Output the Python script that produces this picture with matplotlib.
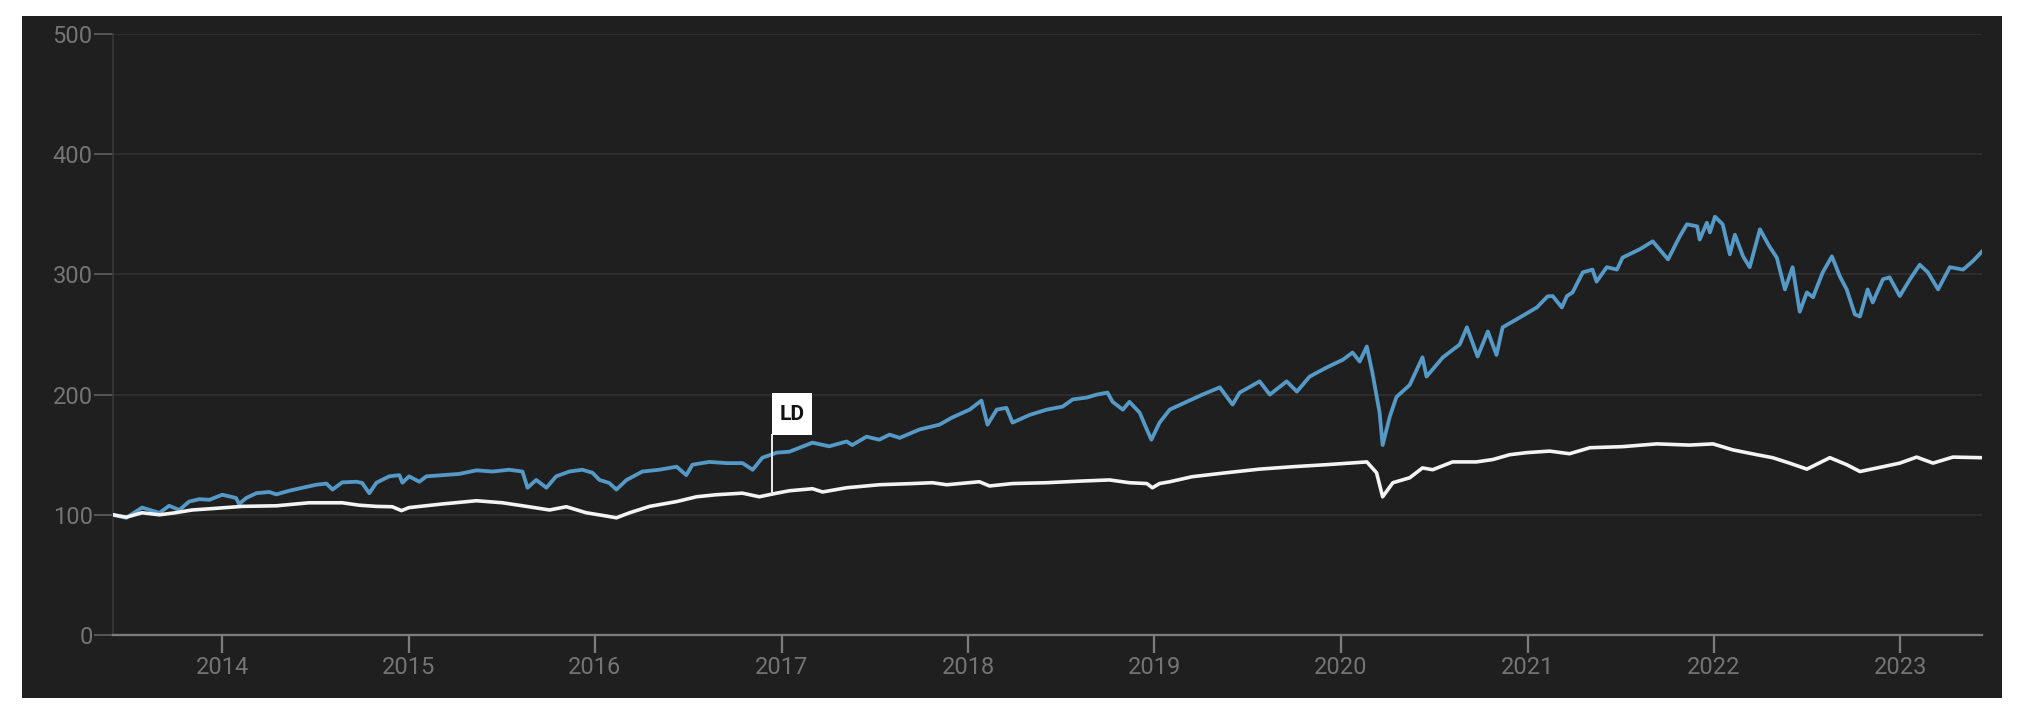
import matplotlib
matplotlib.use("Agg")
import matplotlib.pyplot as plt
import matplotlib.dates as mdates
from matplotlib.patches import Rectangle
import pandas as pd

# ---------------- data ----------------
blue_dates = [
    "2013-06-01", "2013-06-27", "2013-07-28", "2013-08-31", "2013-09-19", "2013-10-09", "2013-10-28",
    "2013-11-17", "2013-12-07", "2014-01-01", "2014-01-28", "2014-02-03", "2014-02-17", "2014-03-09",
    "2014-04-03", "2014-04-17", "2014-05-12", "2014-06-07", "2014-07-04", "2014-07-24", "2014-08-05",
    "2014-08-24", "2014-09-21", "2014-10-02", "2014-10-16", "2014-10-30", "2014-11-24", "2014-12-14",
    "2014-12-20", "2015-01-02", "2015-01-22", "2015-02-05", "2015-03-08", "2015-04-10", "2015-05-14",
    "2015-06-14", "2015-07-17", "2015-08-12", "2015-08-22", "2015-09-08", "2015-09-28", "2015-10-17",
    "2015-11-12", "2015-12-07", "2015-12-27", "2016-01-10", "2016-01-29", "2016-02-12", "2016-03-03",
    "2016-04-03", "2016-05-06", "2016-06-09", "2016-06-28", "2016-07-10", "2016-08-12", "2016-09-15",
    "2016-10-16", "2016-11-05", "2016-11-24", "2016-12-22", "2017-01-16", "2017-03-02", "2017-04-04",
    "2017-05-08", "2017-05-19", "2017-06-16", "2017-07-11", "2017-07-31", "2017-08-20", "2017-09-28",
    "2017-11-06", "2017-12-01", "2018-01-04", "2018-01-27", "2018-02-08", "2018-02-26", "2018-03-17",
    "2018-03-29", "2018-05-01", "2018-06-04", "2018-07-05", "2018-07-25", "2018-08-21", "2018-09-10",
    "2018-10-01", "2018-10-11", "2018-10-31", "2018-11-13", "2018-12-03", "2018-12-17", "2018-12-26",
    "2019-01-11", "2019-01-31", "2019-03-05", "2019-04-05", "2019-05-09", "2019-06-03", "2019-06-17",
    "2019-07-26", "2019-08-15", "2019-09-17", "2019-10-07", "2019-11-01", "2019-12-04", "2020-01-05",
    "2020-01-24", "2020-02-07", "2020-02-21", "2020-03-03", "2020-03-17", "2020-03-23", "2020-04-06",
    "2020-04-19", "2020-05-15", "2020-06-09", "2020-06-17", "2020-07-19", "2020-08-21", "2020-09-04",
    "2020-09-25", "2020-10-15", "2020-11-01", "2020-11-13", "2020-12-16", "2021-01-19", "2021-02-09",
    "2021-02-19", "2021-03-09", "2021-03-19", "2021-03-30", "2021-04-19", "2021-05-08", "2021-05-16",
    "2021-06-05", "2021-06-25", "2021-07-06", "2021-08-09", "2021-09-03", "2021-10-03", "2021-10-26",
    "2021-11-09", "2021-11-29", "2021-12-04", "2021-12-18", "2021-12-24", "2022-01-03", "2022-01-18",
    "2022-02-01", "2022-02-11", "2022-02-27", "2022-03-12", "2022-04-01", "2022-04-20", "2022-05-04",
    "2022-05-20", "2022-06-04", "2022-06-18", "2022-07-02", "2022-07-14", "2022-08-02", "2022-08-20",
    "2022-09-05", "2022-09-18", "2022-10-04", "2022-10-14", "2022-10-29", "2022-11-08", "2022-11-28",
    "2022-12-11", "2022-12-31", "2023-01-20", "2023-02-08", "2023-02-24", "2023-03-16", "2023-04-08",
    "2023-05-04", "2023-05-23", "2023-06-10",
]
blue_values = [
    100, 97.5, 106, 101.6, 107.5, 104, 111,
    113, 112.5, 116.7, 114, 109, 114, 118,
    119, 117, 120, 122.5, 125, 126, 121,
    127, 127.5, 126.5, 118, 126.7, 132, 133,
    126.7, 132, 127.5, 132, 133, 134, 137,
    136, 137.5, 136, 122.5, 129, 122.5, 132,
    136, 137.5, 135, 129, 126.5, 121, 129,
    136, 137.5, 140, 133, 141.7, 144, 143,
    143, 137.5, 147.5, 151.7, 152.5, 160, 157,
    161, 158, 165, 162.5, 166.7, 164, 171,
    175, 181, 187.5, 195, 175, 187.5, 189,
    176.7, 183, 187.5, 190, 196, 197.5, 200,
    201.7, 194, 187.5, 194, 185, 171, 162.5,
    176.7, 187.5, 194, 200, 206, 191.7, 201.7,
    211, 200, 211, 202.5, 215, 222.5, 229,
    235, 227.5, 240, 218, 185, 158, 181.7,
    198, 208, 231, 215, 231, 241.7, 256,
    231.7, 252.5, 233, 256, 264, 272.5, 281.7,
    282, 272.5, 282, 285, 301.7, 304, 294,
    306, 304, 314, 321, 327.5, 312.5, 331.7,
    341.7, 340, 329, 343, 335, 348, 341.7,
    316.7, 333, 315, 306, 337.5, 323, 314,
    287.5, 306, 269, 285, 281, 301.7, 315,
    298, 287.5, 266.7, 265, 287.5, 276.7, 296,
    297.5, 282, 296, 308, 301.7, 287.5, 306,
    304, 311, 319,
]

white_dates = [
    "2013-06-01", "2013-06-27", "2013-07-28", "2013-08-31", "2013-10-01", "2013-11-03", "2013-12-07",
    "2014-02-09", "2014-04-17", "2014-06-20", "2014-08-24", "2014-09-26", "2014-10-30", "2014-11-30",
    "2014-12-18", "2015-01-02", "2015-03-08", "2015-05-14", "2015-07-04", "2015-08-20", "2015-10-04",
    "2015-11-06", "2015-12-15", "2016-01-23", "2016-02-12", "2016-03-09", "2016-04-17", "2016-06-09",
    "2016-07-18", "2016-08-26", "2016-10-16", "2016-11-18", "2016-12-22", "2017-01-16", "2017-03-02",
    "2017-03-22", "2017-05-08", "2017-07-11", "2017-09-14", "2017-10-23", "2017-11-20", "2018-01-23",
    "2018-02-12", "2018-03-29", "2018-06-04", "2018-08-07", "2018-10-05", "2018-11-13", "2018-12-17",
    "2018-12-28", "2019-01-11", "2019-01-31", "2019-03-16", "2019-05-22", "2019-07-26", "2019-09-29",
    "2019-12-04", "2020-02-21", "2020-03-11", "2020-03-23", "2020-04-12", "2020-05-15", "2020-06-09",
    "2020-06-29", "2020-08-07", "2020-09-23", "2020-10-25", "2020-11-27", "2020-12-30", "2021-02-13",
    "2021-03-24", "2021-05-03", "2021-07-06", "2021-09-11", "2021-11-14", "2021-12-30", "2022-02-07",
    "2022-03-26", "2022-04-26", "2022-05-29", "2022-07-02", "2022-08-16", "2022-09-18", "2022-10-14",
    "2022-11-28", "2022-12-31", "2023-02-02", "2023-03-06", "2023-04-14", "2023-06-10",
]
white_values = [
    100, 98, 101.7, 100, 101.7, 104, 105,
    107, 107.5, 110, 110, 108, 107, 106.7,
    103.5, 106, 109, 111.7, 110, 107, 104,
    106.7, 101.7, 99, 97.5, 101.7, 107, 111,
    115, 116.7, 118, 115, 118, 120, 121.7,
    119, 122.5, 125, 126, 126.7, 125, 127.5,
    124, 126, 126.7, 128, 129, 126.7, 126,
    122.5, 126, 127.5, 131.7, 135, 138, 140,
    141.7, 144, 135, 115, 126.7, 130.8, 139,
    137.5, 144, 144, 146, 150, 151.7, 153,
    150.8, 155.8, 156.7, 159, 158, 159, 154,
    150, 147.5, 143, 138, 147.5, 141.7, 136,
    140, 143, 148, 143, 148, 147.5,
]

y_ticks = [0, 100, 200, 300, 400, 500]
marker_label = "LD"
marker_date = "2016-12-13"
marker_value = 118

# ---------------- styling ----------------
DPI = 100
BG = "#1f1f1f"
BLUE = "#5599c6"
WHITE = "#f4f4f4"
GRID = "#323232"
LABEL = "#747474"

fig = plt.figure(figsize=(20.24, 7.16), dpi=DPI, facecolor="white")
bg_rect = Rectangle((22 / 2024, 18 / 716), (2002 - 22) / 2024, (700 - 18) / 716,
                    transform=fig.transFigure, facecolor=BG, edgecolor="none", zorder=-10)
fig.add_artist(bg_rect)

ax = fig.add_axes([113 / 2024, (716 - 635) / 716, (1982 - 113) / 2024, (635 - 34) / 716])
ax.set_zorder(1)
ax.set_facecolor(BG)

bd = pd.to_datetime(blue_dates)
wd = pd.to_datetime(white_dates)
px = 72 / DPI
ax.plot(bd, blue_values, color=BLUE, lw=3.8 * px, solid_joinstyle="round", zorder=4)
ax.plot(wd, white_values, color=WHITE, lw=3.6 * px, solid_joinstyle="round", zorder=5)

# marker flag
md = mdates.date2num(pd.Timestamp(marker_date))
box_w = 78  # days
box_bottom, box_h = 166, 35
ax.plot([md, md], [marker_value, box_bottom], color="#e6e6e6", lw=2 * px, zorder=6)
ax.add_patch(Rectangle((md, box_bottom), box_w, box_h, facecolor="white", edgecolor="none", zorder=7))
ax.text(md + box_w / 2, box_bottom + box_h / 2, marker_label, ha="center", va="center",
        fontsize=15, fontweight="bold", color="#111111", family=["Roboto", "DejaVu Sans"], zorder=8)

ax.set_ylim(0, 500)
ax.set_xlim(pd.Timestamp("2013-06-01"), pd.Timestamp("2023-06-10"))
ax.set_yticks(y_ticks)
ax.xaxis.set_major_locator(mdates.YearLocator())
ax.xaxis.set_major_formatter(mdates.DateFormatter("%Y"))

ax.grid(axis="y", color=GRID, lw=1.5 * px, zorder=1)
ax.grid(axis="x", visible=False)
for s in ("top", "right"):
    ax.spines[s].set_visible(False)
ax.spines["left"].set_color("#3a3a3a")
ax.spines["left"].set_linewidth(1.5 * px)
ax.spines["bottom"].set_color("#7c7c7c")
ax.spines["bottom"].set_linewidth(2.3 * px)

ax.tick_params(axis="y", length=19 * px, width=1.8 * px, color="#5c5c5c", pad=1,
               labelsize=17, labelcolor=LABEL)
ax.tick_params(axis="x", length=18 * px, width=2.3 * px, color="#7c7c7c", pad=2,
               labelsize=17, labelcolor=LABEL)
for lab in ax.get_xticklabels() + ax.get_yticklabels():
    lab.set_family(["Roboto", "DejaVu Sans"])

fig.savefig("out.png", dpi=DPI, facecolor="white")
